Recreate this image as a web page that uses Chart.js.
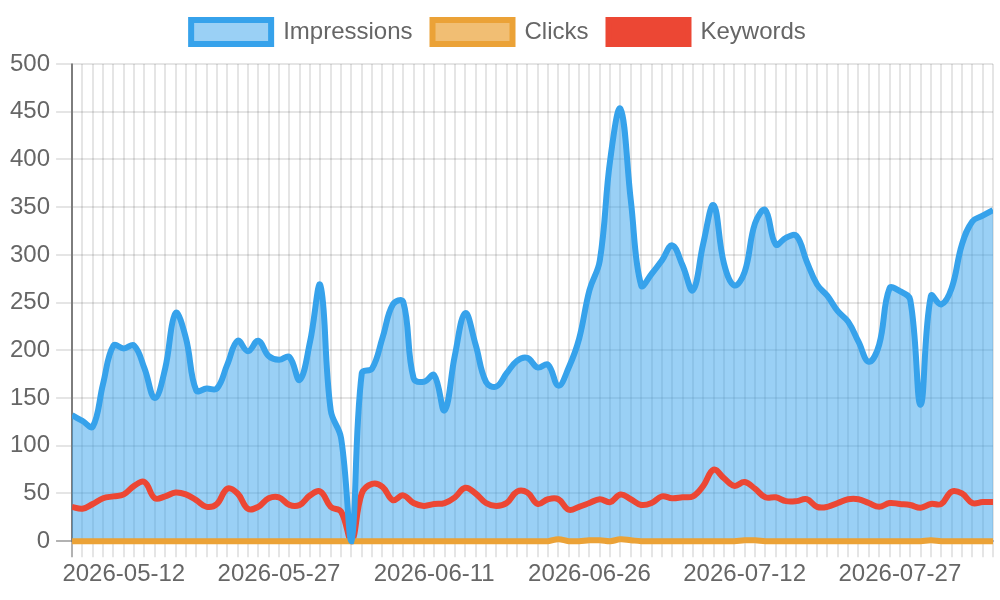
<!DOCTYPE html>
<html>
<head>
<meta charset="utf-8">
<script src="https://cdn.jsdelivr.net/npm/chart.js@4.4.1/dist/chart.umd.min.js"></script>
<style>
	body { margin: 0; background: #fff; }
	#wrap { width: 1000px; height: 600px; }
</style>
</head>
<body>
<div id="wrap"><canvas id="grafico"></canvas></div>
<script>
const dates = [
	"2026-05-07","2026-05-08","2026-05-09","2026-05-10","2026-05-11","2026-05-12","2026-05-13","2026-05-14","2026-05-15","2026-05-16",
	"2026-05-17","2026-05-18","2026-05-19","2026-05-20","2026-05-21","2026-05-22","2026-05-23","2026-05-24","2026-05-25","2026-05-26",
	"2026-05-27","2026-05-28","2026-05-29","2026-05-30","2026-05-31","2026-06-01","2026-06-02","2026-06-03","2026-06-04","2026-06-05",
	"2026-06-06","2026-06-07","2026-06-08","2026-06-09","2026-06-10","2026-06-11","2026-06-12","2026-06-13","2026-06-14","2026-06-15",
	"2026-06-16","2026-06-17","2026-06-18","2026-06-19","2026-06-20","2026-06-21","2026-06-22","2026-06-23","2026-06-24","2026-06-25",
	"2026-06-26","2026-06-27","2026-06-28","2026-06-29","2026-06-30","2026-07-01","2026-07-02","2026-07-03","2026-07-05","2026-07-06",
	"2026-07-07","2026-07-08","2026-07-09","2026-07-10","2026-07-11","2026-07-12","2026-07-13","2026-07-14","2026-07-15","2026-07-16",
	"2026-07-17","2026-07-18","2026-07-19","2026-07-20","2026-07-21","2026-07-22","2026-07-23","2026-07-24","2026-07-25","2026-07-26",
	"2026-07-27","2026-07-28","2026-07-29","2026-07-30","2026-07-31","2026-08-01","2026-08-02","2026-08-03","2026-08-04","2026-08-05"
];

const tickLabels = ["2026-05-12","2026-05-27","2026-06-11","2026-06-26","2026-07-12","2026-07-27"];

const impressions = [
	132, 126, 120, 165, 205, 202, 205, 181, 150, 181,
	239, 213, 158, 160, 160, 185, 210, 199, 210, 194,
	190, 193, 169, 209, 268, 137, 108, 0, 176, 181,
	213, 248, 251, 171, 167, 174, 137, 195, 239, 206,
	167, 162, 176, 189, 192, 182, 185, 163, 182, 212,
	263, 294, 399, 453, 357, 268, 280, 294, 310, 289,
	263, 312, 352, 291, 268, 282, 333, 347, 311, 318,
	320, 293, 269, 257, 241, 230, 209, 188, 206, 265,
	262, 253, 143, 257, 248, 265, 311, 335, 341, 347
];

const clicks = [
	0, 0, 0, 0, 0, 0, 0, 0, 0, 0,
	0, 0, 0, 0, 0, 0, 0, 0, 0, 0,
	0, 0, 0, 0, 0, 0, 0, 0, 0, 0,
	0, 0, 0, 0, 0, 0, 0, 0, 0, 0,
	0, 0, 0, 0, 0, 0, 0, 2, 0, 0,
	1, 1, 0, 2, 1, 0, 0, 0, 0, 0,
	0, 0, 0, 0, 0, 1, 1, 0, 0, 0,
	0, 0, 0, 0, 0, 0, 0, 0, 0, 0,
	0, 0, 0, 1, 0, 0, 0, 0, 0, 0
];

const keywords = [
	36, 34, 39, 45, 47, 49, 58, 62, 45, 47,
	51, 49, 43, 36, 39, 55, 50, 34, 36, 45,
	46, 38, 38, 48, 52, 36, 31, 0, 50, 60,
	57, 43, 48, 40, 37, 39, 40, 46, 56, 50,
	40, 37, 40, 52, 51, 39, 44, 44, 33, 36,
	40, 44, 41, 49, 44, 38, 40, 47, 45, 46,
	47, 58, 75, 66, 58, 62, 55, 46, 46, 42,
	42, 44, 36, 36, 40, 44, 44, 40, 36, 40,
	39, 38, 35, 39, 39, 52, 50, 40, 41, 41
];

Chart.defaults.font.family = "'Helvetica Neue', Helvetica, Arial, 'Liberation Sans', sans-serif";
Chart.defaults.font.size = 24;
Chart.defaults.color = "#666";

const grid = "rgba(0, 0, 0, 0.1)";
const zeroLine = "rgba(0, 0, 0, 0.3)";
// let the thick lines show past the bottom edge, not the sides
const lineClip = { left: 0, right: 0, top: 6, bottom: 6 };

// a bit more room under the legend
const legendGap = {
	id: "legendGap",
	beforeInit(chart) {
		const fit = chart.legend.fit;
		chart.legend.fit = function () {
			fit.call(this);
			this.height += 10;
		};
	}
};

const data = {
	labels: dates,
	datasets: [{
		label: "Impressions",
		data: impressions,
		borderColor: "rgb(54, 162, 235)",
		backgroundColor: "rgba(54, 162, 235, 0.5)",
		borderWidth: 6,
		clip: lineClip,
		fill: "origin"
	}, {
		label: "Clicks",
		data: clicks,
		borderColor: "rgb(235, 162, 55)",
		backgroundColor: "rgba(235, 162, 55, 0.7)",
		borderWidth: 6,
		clip: lineClip,
		fill: false
	}, {
		label: "Keywords",
		data: keywords,
		borderColor: "rgb(236, 71, 52)",
		backgroundColor: "rgb(236, 71, 52)",
		borderWidth: 6,
		clip: lineClip,
		fill: false
	}]
};

const options = {
	responsive: true,
	maintainAspectRatio: false,
	animation: false,
	layout: { padding: { left: 4, right: 7, top: 0, bottom: 8 } },
	elements: {
		line: { tension: 0.4 },
		point: { radius: 0, hoverRadius: 0 }
	},
	plugins: {
		filler: { drawTime: "beforeDatasetsDraw" },
		tooltip: { enabled: false },
		legend: {
			labels: { boxWidth: 80, boxHeight: 24, padding: 20 }
		}
	},
	scales: {
		x: {
			grid: {
				lineWidth: 2,
				tickLength: 16,
				color: ctx => ctx.index === 0 ? zeroLine : grid
			},
			border: { color: zeroLine, width: 2 },
			ticks: {
				autoSkip: false,
				maxRotation: 0,
				minRotation: 0,
				padding: 3,
				callback: function (value) {
					const label = this.getLabelForValue(value);
					return tickLabels.includes(label) ? label : "";
				}
			}
		},
		y: {
			min: 0,
			max: 500,
			grid: {
				lineWidth: 2,
				tickLength: 16,
				color: ctx => ctx.tick && ctx.tick.value === 0 ? zeroLine : grid
			},
			border: { color: zeroLine, width: 2 },
			ticks: { stepSize: 50, padding: 6 }
		}
	}
};

new Chart(document.getElementById("grafico"), {
	type: "line",
	data: data,
	options: options,
	plugins: [legendGap]
});
</script>
</body>
</html>
